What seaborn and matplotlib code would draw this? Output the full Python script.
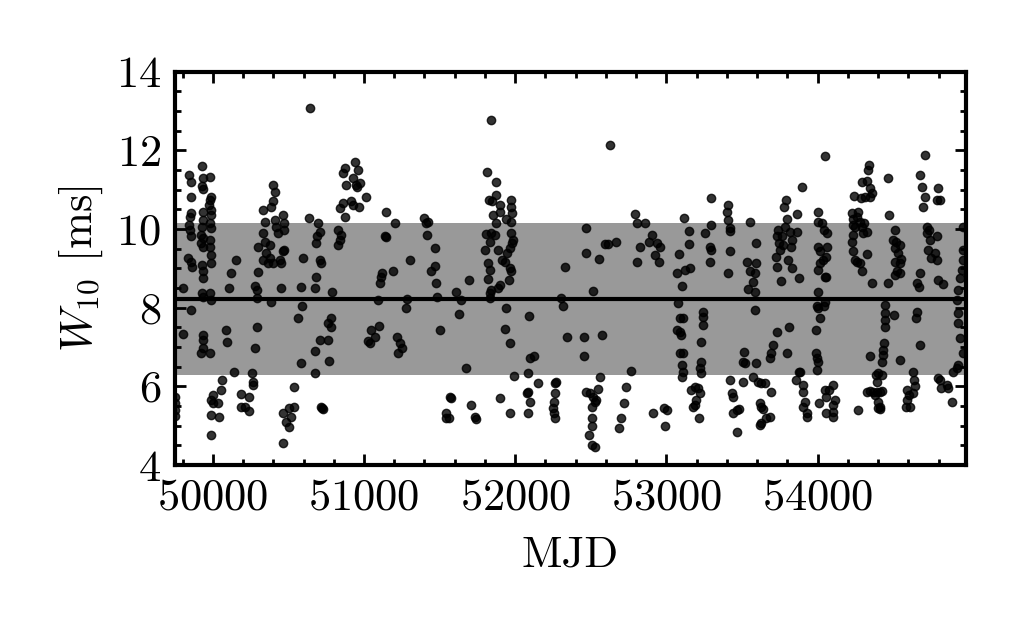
import matplotlib
matplotlib.use("Agg")
import matplotlib.pyplot as plt
import numpy as np
import pandas as pd
import seaborn as sns
from matplotlib.ticker import MultipleLocator

# Pulse width W10 per epoch
mjd = [
    49753, 49753, 49753, 49753, 49801, 49856, 49806, 49845, 49856, 49856,
    49856, 49850, 49845, 49850, 49856, 49834, 49856, 49863, 49929, 49934,
    49929, 49934, 49978, 49989, 49978, 49973, 49989, 49934, 49989, 49934,
    49978, 49929, 49989, 49923, 49934, 49978, 49923, 49938, 49982, 49989,
    49929, 49934, 49934, 49989, 49929, 49978, 49989, 49934, 49934, 49934,
    49923, 49934, 49978, 50000, 49989, 50000, 50033, 49989, 50040, 49989,
    50059, 50055, 50088, 50092, 50110, 50121, 50154, 50137, 50187, 50187,
    50216, 50242, 50242, 50260, 50265, 50265, 50276, 50291, 50282, 50291,
    50298, 50298, 50291, 50335, 50342, 50331, 50342, 50353, 50364, 50375,
    50386, 50401, 50408, 50397, 50408, 50419, 50430, 50441, 50452, 50463,
    50474, 50474, 50463, 50474, 50375, 50331, 50397, 50386, 50452, 50467,
    50485, 50507, 50463, 50507, 50540, 50540, 50518, 50584, 50589, 50562,
    50584, 50595, 50635,
    50640, 50695, 50711, 50689, 50680, 50711, 50717, 50684, 50673, 50790,
    50784, 50762, 50784, 50711, 50762, 50673, 50768, 50673, 50717, 50728,
    50724, 50938, 50872, 50861, 50960, 50927, 50883, 50949, 50971, 50953,
    51011, 50861, 50916, 50927, 50967, 50843, 50872, 50828, 50850, 50839,
    50828, 51148, 51203, 51137, 51143, 51121, 51114, 51108, 51192, 51306,
    51092, 51284, 51276, 51097, 51048, 51070, 51026, 51037, 51218, 51240,
    51253, 51225, 51395, 51423, 51412, 51419, 51467, 51445, 51467, 51474,
    51483, 51501,
    51610, 51644, 51628, 51694, 51677, 51566, 51577, 51544, 51540, 51562,
    51710, 51732, 51743, 51842, 51816, 51875, 51871, 51827, 51849, 51902,
    51897, 51974, 51974, 51981, 51974, 51937, 51853, 51871, 51809, 51842,
    51864, 51831, 51974, 51986, 51981, 51798, 51886, 51963, 51946, 51915,
    51930, 51820, 51831, 51963, 51974, 51820, 51957, 51897, 51842, 51886,
    51836, 51831, 51941, 51930, 51968, 51990, 52091, 52096, 52122, 52085,
    52151, 52085, 52078, 52096, 52085, 51968, 51902, 52261, 52272, 52261,
    52255, 52250, 52255, 52261, 52305, 52316, 52327, 52343,
    52467, 52467, 52555, 52516, 52454, 52454, 52571, 52630, 52593, 52615,
    52670, 52564, 52467, 52498, 52516, 52527, 52511, 52533, 52549, 52511,
    52505, 52489, 52505, 52527, 52763, 52732, 52719, 52703, 52688, 52791,
    52807, 52858, 52902, 52886, 52824, 52935, 52961, 52924, 52952, 52807,
    52913, 52983, 53001, 52990, 53116, 53151, 53151, 53085, 53155, 53122,
    53067, 53100, 53078, 53089, 53111, 53072, 53089, 53094, 53089, 53111,
    53100, 53107, 53100,
    53188, 53166, 53210, 53221, 53199, 53188, 53217, 53173, 53239, 53243,
    53243, 53232, 53226, 53221, 53226, 53254, 53292, 53298, 53287, 53292,
    53287, 53409, 53402, 53409, 53420, 53424, 53424, 53409, 53552, 53596,
    53534, 53596, 53552, 53585, 53570, 53541, 53585, 53585, 53512, 53508,
    53519, 53592, 53574, 53424, 53431, 53442, 53464, 53481, 53442, 53464,
    53504, 53607, 53629, 53651, 53695, 53618, 53629, 53640, 53662, 53684,
    53629, 53618, 53695, 53684, 53702, 53733, 53799, 53812, 53790, 53777,
    53795, 53861, 53894, 53740, 53733, 53746, 53724, 53751, 53733, 53817,
    53828, 53823, 53806, 53828, 53879, 53755, 53865, 53762, 53773, 53784,
    53879, 53887, 53856, 53905, 53905, 53916, 53905, 53927, 53927, 54011,
    54048,
    54004, 54004, 54026, 54042, 54004, 54015, 54033, 54015, 54004, 54048,
    54004, 54048, 53993, 54004, 54015, 53989, 53989, 53993, 54004, 53993,
    54048, 54059, 54059, 54064, 54064, 54055, 54055, 54041, 54077, 54099,
    54114, 54103, 54099, 54103,
    54225, 54236, 54247, 54258, 54269, 54280, 54291, 54302, 54306, 54324,
    54236, 54240, 54284, 54313, 54346, 54297, 54324, 54335, 54341, 54346,
    54357, 54236, 54225, 54236, 54247, 54258, 54280, 54328, 54297, 54357,
    54346, 54423, 54430, 54434, 54439, 54445, 54445, 54445, 54445, 54505,
    54467, 54467, 54474, 54511, 54500, 54522, 54544, 54511, 54533, 54511,
    54555, 54544, 54527, 54511, 54544, 54544, 54401, 54390, 54324, 54346,
    54368, 54390, 54412, 54423, 54379, 54401, 54412, 54401, 54412, 54269,
    54423, 54386, 54593, 54606, 54593, 54584, 54611, 54633, 54633, 54637,
    54644, 54710, 54677, 54694, 54710, 54699, 54725, 54739, 54721, 54743,
    54732, 54747, 54776, 54792, 54798, 54787, 54809, 54787, 54677, 54659,
    54672, 54655, 54650, 54677, 54798, 54809, 54814, 54853, 54864, 54886,
    54920, 54897, 54930, 54827, 54798, 54930, 54920, 54930, 54930, 54942,
    54964, 54942, 54953, 54964, 54964, 54959,
]

w10 = [
    5.74, 5.57, 5.40, 5.25, 8.49, 7.94, 7.33, 11.37, 11.20, 10.82,
    10.40, 10.31, 10.10, 9.97, 9.81, 9.26, 9.17, 9.04, 11.59, 11.29,
    11.09, 11.01, 11.31, 10.82, 10.74, 10.61, 10.48, 10.44, 10.36, 10.23,
    10.15, 10.06, 10.02, 9.85, 9.76, 9.72, 9.64, 9.55, 9.55, 9.34,
    9.09, 8.92, 8.75, 9.13, 8.37, 8.37, 8.20, 8.28, 7.31, 7.18,
    6.84, 6.97, 6.84, 5.78, 5.65, 5.57, 5.57, 5.27, 5.21, 4.76,
    6.15, 5.91, 7.43, 7.14, 8.49, 8.87, 9.21, 6.37, 5.80, 5.48,
    5.48, 5.38, 5.74, 6.35, 6.12, 6.03, 6.97, 7.52, 8.55, 8.45,
    8.90, 9.55, 8.24, 10.48, 10.19, 9.89, 9.68, 9.38, 9.13, 9.26,
    10.57, 11.12, 10.95, 10.70, 10.23, 10.06, 9.89, 9.21, 9.13, 10.36,
    10.15, 9.97, 9.43, 9.47, 9.59, 9.21, 9.13, 8.15, 8.49, 5.31,
    5.10, 4.97, 4.55, 5.44, 5.48, 5.99, 5.23, 8.53, 8.03, 7.75,
    6.59, 9.26, 10.27,
    13.07, 10.15, 9.93, 9.81, 9.65, 9.21, 9.13, 8.79, 8.49, 8.41,
    7.75, 7.60, 7.52, 7.18, 7.18, 6.91, 6.65, 6.35, 5.48, 5.42,
    5.44, 11.71, 11.54, 11.43, 11.50, 11.29, 11.12, 11.12, 11.18, 11.06,
    10.82, 10.67, 10.70, 10.61, 10.57, 10.53, 10.31, 9.97, 9.85, 9.72,
    9.59, 10.44, 10.15, 9.81, 9.79, 8.87, 8.77, 8.64, 8.94, 9.20,
    8.20, 8.21, 7.98, 7.54, 7.43, 7.26, 7.16, 7.09, 7.25, 7.11,
    6.97, 6.84, 10.27, 10.19, 10.16, 9.85, 9.53, 8.94, 9.06, 8.64,
    8.26, 7.43,
    8.41, 8.20, 7.84, 8.70, 6.46, 5.74, 5.70, 5.31, 5.19, 5.19,
    5.53, 5.23, 5.17, 12.76, 11.46, 11.20, 10.87, 10.74, 10.72, 10.61,
    10.44, 10.74, 10.57, 10.40, 10.19, 10.25, 10.36, 10.15, 9.87, 9.91,
    9.85, 9.68, 9.89, 9.72, 9.65, 9.47, 9.47, 9.51, 9.38, 9.20,
    9.17, 9.13, 8.96, 9.00, 8.92, 8.72, 8.70, 8.58, 8.45, 8.49,
    8.24, 8.37, 7.98, 7.45, 7.09, 6.26, 7.79, 6.71, 6.77, 6.35,
    6.09, 5.86, 5.82, 5.61, 5.31, 5.33, 5.70, 6.09, 6.12, 5.82,
    5.61, 5.44, 5.31, 5.19, 8.24, 8.03, 9.04, 7.25,
    10.03, 9.38, 9.24, 8.43, 7.26, 6.78, 7.31, 12.14, 9.61, 9.61,
    9.68, 6.23, 5.86, 5.82, 5.74, 5.61, 5.48, 5.65, 5.92, 5.19,
    5.00, 4.76, 4.51, 4.47, 6.40, 5.99, 5.57, 5.19, 4.95, 10.38,
    10.15, 10.15, 9.85, 9.68, 9.55, 9.64, 9.55, 9.34, 9.17, 9.17,
    5.33, 5.44, 5.40, 5.00, 10.27, 9.96, 9.62, 9.37, 9.00, 8.96,
    8.87, 8.55, 8.13, 7.73, 7.73, 7.43, 7.39, 7.31, 6.84, 6.84,
    6.54, 6.37, 6.25,
    5.99, 5.91, 5.95, 5.82, 5.65, 5.53, 5.19, 5.48, 7.90, 7.77,
    7.56, 7.14, 6.63, 6.46, 6.33, 9.89, 10.10, 10.78, 9.55, 9.47,
    9.17, 10.61, 10.44, 10.23, 10.02, 9.96, 9.43, 8.89, 10.19, 9.64,
    9.17, 9.13, 8.92, 8.89, 8.66, 8.47, 8.41, 7.93, 6.88, 6.63,
    6.59, 6.59, 6.25, 6.16, 5.82, 5.74, 5.40, 5.42, 5.31, 4.85,
    6.12, 6.12, 6.08, 6.09, 5.86, 5.57, 5.48, 5.42, 5.19, 5.23,
    5.06, 5.02, 6.84, 6.71, 7.05, 7.37, 6.84, 7.50, 10.74, 10.55,
    10.25, 10.38, 11.06, 9.97, 9.81, 9.64, 9.30, 9.47, 9.04, 9.93,
    9.72, 9.55, 9.21, 9.00, 8.75, 8.69, 9.93, 9.81, 9.59, 10.06,
    6.37, 6.37, 6.16, 6.03, 5.86, 5.61, 5.48, 5.31, 5.23, 5.57,
    11.86,
    10.44, 10.19, 10.15, 9.97, 9.55, 9.43, 9.21, 9.13, 8.96, 8.79,
    8.41, 8.15, 8.03, 7.98, 7.73, 7.42, 6.84, 6.71, 6.63, 6.42,
    5.91, 5.74, 5.31, 9.89, 9.55, 9.30, 8.79, 8.03, 5.91, 6.03,
    5.65, 5.53, 5.36, 5.23,
    10.40, 10.25, 10.06, 10.31, 10.44, 10.19, 10.06, 9.89, 10.15, 9.93,
    10.10, 10.84, 10.78, 10.82, 10.81, 11.20, 11.23, 11.50, 11.63, 11.04,
    10.91, 9.85, 9.68, 9.45, 9.21, 9.17, 9.13, 9.37, 8.92, 8.64,
    6.77, 6.63, 6.80, 6.93, 7.11, 7.52, 7.69, 7.87, 8.07, 7.81,
    8.64, 11.29, 10.36, 9.97, 9.72, 9.68, 9.59, 9.51, 9.38, 9.17,
    9.23, 9.13, 8.94, 8.83, 8.87, 6.67, 6.33, 6.12, 5.86, 5.88,
    5.86, 5.86, 5.86, 5.88, 5.78, 5.61, 5.48, 5.44, 5.42, 5.40,
    6.29, 6.29, 5.91, 5.78, 5.65, 5.48, 5.48, 5.82, 6.37, 6.16,
    6.01, 11.88, 11.37, 11.08, 10.82, 10.57, 10.06, 9.97, 9.89, 9.72,
    9.47, 9.26, 9.38, 9.21, 11.04, 10.74, 10.74, 9.81, 8.87, 8.62,
    8.53, 7.90, 7.73, 7.05, 6.20, 6.16, 5.95, 6.03, 5.95, 5.61,
    6.46, 6.37, 6.54, 8.60, 8.70, 8.45, 8.20, 7.86, 7.60, 7.22,
    6.84, 8.75, 8.96, 9.21, 9.47, 10.06,
]

w10_mean = 8.23
w10_std = 1.93

df = pd.DataFrame({"MJD": mjd, "W10": w10})

sns.set_style("ticks")
plt.rcParams["font.family"] = "serif"
plt.rcParams["font.serif"] = ["cmr10"]
plt.rcParams["mathtext.fontset"] = "cm"
plt.rcParams["axes.formatter.use_mathtext"] = True
plt.rcParams["font.size"] = 16
# plain black frame and text instead of seaborn's dark grey
for key in ["axes.edgecolor", "axes.labelcolor", "text.color",
            "xtick.color", "ytick.color"]:
    plt.rcParams[key] = "black"

fig, ax = plt.subplots(figsize=(5.1, 3.15), dpi=200)
fig.subplots_adjust(left=0.1716, right=0.9468, top=0.8862, bottom=0.2619)

ax.axhspan(w10_mean - w10_std, w10_mean + w10_std, color="0.6", lw=0, zorder=0)
ax.axhline(w10_mean, color="k", lw=1.5, zorder=1)

sns.scatterplot(data=df, x="MJD", y="W10", ax=ax, color="k", alpha=0.8,
                s=9, edgecolor="k", linewidth=0.5, zorder=2, legend=False)

ax.set_xlim(49750, 54980)
ax.set_ylim(4, 14)
ax.xaxis.set_major_locator(MultipleLocator(1000))
ax.xaxis.set_minor_locator(MultipleLocator(200))
ax.yaxis.set_major_locator(MultipleLocator(2))
ax.yaxis.set_minor_locator(MultipleLocator(0.5))
ax.ticklabel_format(axis="x", useOffset=False)

ax.tick_params(which="both", direction="in", top=True, right=True, width=1.0,
               labelsize=16, colors="black")
ax.tick_params(which="major", length=4, pad=5)
ax.tick_params(which="minor", length=2.2)
for sp in ax.spines.values():
    sp.set_linewidth(1.5)
    sp.set_color("black")

ax.set_xlabel("MJD", fontsize=16, labelpad=6)
ax.set_ylabel(r"$W_{10}$ [ms]", fontsize=16)

fig.savefig("out.png", dpi=200)
